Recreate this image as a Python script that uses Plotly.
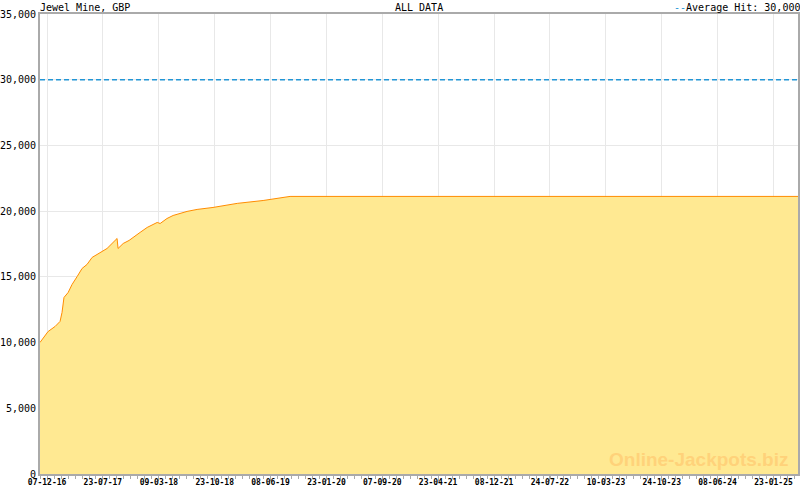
import plotly.graph_objects as go
import pandas as pd

dates = ["2016-11-08", "2016-12-11", "2017-01-09", "2017-01-29", "2017-02-06", "2017-02-14",
         "2017-03-03", "2017-03-19", "2017-04-09", "2017-04-29", "2017-05-19", "2017-06-09",
         "2017-06-29", "2017-08-09", "2017-09-19", "2017-09-23", "2017-10-14", "2017-11-07",
         "2017-12-22", "2018-01-20", "2018-03-02", "2018-03-14", "2018-04-11", "2018-05-06",
         "2018-07-02", "2018-08-12", "2018-10-16", "2019-01-23", "2019-05-09", "2019-07-30",
         "2019-08-27", "2025-05-03"]
values = [10010, 10840, 11230, 11610, 12290, 13430,
          13810, 14420, 15030, 15640, 15940, 16480,
          16700, 17160, 17920, 17160, 17540, 17770,
          18380, 18760, 19140, 19060, 19440, 19670,
          19980, 20130, 20280, 20590, 20810, 21040,
          21120, 21120]
average_hit = 30000
tick_dates = ["2016-12-07", "2017-07-23", "2018-03-09", "2018-10-23", "2019-06-08", "2020-01-23",
              "2020-09-07", "2021-04-23", "2021-12-08", "2022-07-24", "2023-03-10", "2023-10-24",
              "2024-06-08", "2025-01-23"]
tick_labels = ["07-12-16", "23-07-17", "09-03-18", "23-10-18", "08-06-19", "23-01-20",
               "07-09-20", "23-04-21", "08-12-21", "24-07-22", "10-03-23", "24-10-23",
               "08-06-24", "23-01-25"]
y_ticks = [0, 5000, 10000, 15000, 20000, 25000, 30000, 35000]
y_labels = ["0", "5,000", "10,000", "15,000", "20,000", "25,000", "30,000", "35,000"]

x_start, x_end = dates[0], dates[-1]

# minor ticks: 8 per major interval
td = pd.to_datetime(tick_dates)
step = (td[-1] - td[0]) / (len(td) - 1) / 8
minor = []
t = td[0] - step * 4
while t <= pd.Timestamp(x_end):
    if t >= pd.Timestamp(x_start):
        minor.append(t)
    t += step

fig = go.Figure()
fig.add_trace(go.Scatter(
    x=dates, y=values, mode="lines", fill="tozeroy",
    line=dict(color="#FF8C00", width=1), fillcolor="#FFE992",
    hoverinfo="skip", showlegend=False))
fig.add_trace(go.Scatter(
    x=[x_start, x_end], y=[average_hit, average_hit], mode="lines",
    line=dict(color="#2296D6", width=1.6, dash="5px,3px"),
    hoverinfo="skip", showlegend=False))

mono = "DejaVu Sans Mono"
fig.update_layout(
    width=800, height=490,
    margin=dict(l=40, r=2, t=14, b=16, autoexpand=False),
    paper_bgcolor="white", plot_bgcolor="white",
    font=dict(family=mono, size=10, color="black"),
    xaxis=dict(
        type="date", range=[x_start, x_end], automargin=False,
        tickvals=tick_dates, ticktext=tick_labels,
        tickfont=dict(family=mono, size=8, weight="bold"),
        ticks="outside", ticklen=5, tickcolor="#aaaaaa", tickwidth=1,
        ticklabelstandoff=-6,
        showgrid=True, gridcolor="#e8e8e8", gridwidth=1,
        showline=True, linecolor="#aaaaaa", linewidth=2, mirror=True,
        minor=dict(tickvals=minor, ticks="outside", ticklen=3, tickcolor="#aaaaaa", showgrid=False),
        zeroline=False,
    ),
    yaxis=dict(
        range=[0, 35000], tickvals=y_ticks, ticktext=y_labels, automargin=False,
        tickfont=dict(family=mono, size=10),
        showgrid=True, gridcolor="#e8e8e8", gridwidth=1,
        showline=True, linecolor="#aaaaaa", linewidth=2, mirror=True,
        zeroline=False, ticks="", ticklabelstandoff=0,
    ),
    annotations=[
        dict(text="Jewel Mine, GBP", xref="paper", yref="paper", x=0, y=1,
             xanchor="left", yanchor="bottom", showarrow=False, xshift=-2, yshift=-1,
             font=dict(family=mono, size=10)),
        dict(text="ALL DATA", xref="paper", yref="paper", x=0.5, y=1,
             xanchor="center", yanchor="bottom", showarrow=False, yshift=-1,
             font=dict(family=mono, size=10)),
        dict(text='<span style="color:#2296D6">--</span>Average Hit: 30,000',
             xref="paper", yref="paper", x=1, y=1,
             xanchor="right", yanchor="bottom", showarrow=False, yshift=-1, xshift=4,
             font=dict(family=mono, size=10)),
        dict(text="<b>Online-Jackpots.biz</b>", xref="paper", yref="paper", x=0.99, y=0.005,
             xanchor="right", yanchor="bottom", showarrow=False,
             font=dict(family="Liberation Sans", size=19, color="#FFD27A")),
    ],
)

fig.write_html("out.html", config={"displayModeBar": False, "staticPlot": True},
               post_script="document.body.style.margin='0';document.body.style.overflow='hidden';")
